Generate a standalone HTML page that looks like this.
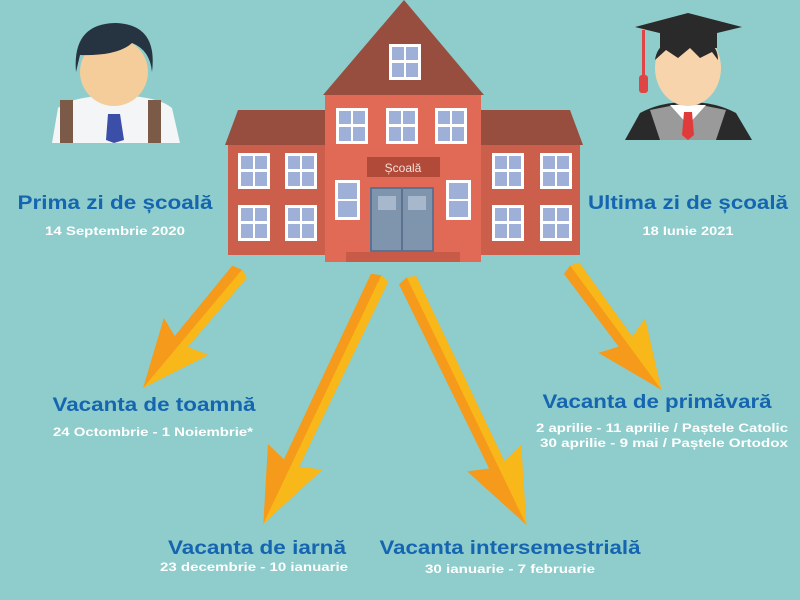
<!DOCTYPE html>
<html><head><meta charset="utf-8"><style>
body{margin:0;width:800px;height:600px;overflow:hidden;background:#8ecdcb}
svg{display:block}
.h{font-family:"Liberation Sans",sans-serif;font-weight:bold;font-size:19px;fill:#1565b0;text-anchor:middle}
.s{font-family:"Liberation Sans",sans-serif;font-weight:bold;font-size:12px;fill:#fff;text-anchor:middle}
</style></head><body>
<svg width="800" height="600" viewBox="0 0 800 600">
<defs>
<g id="win"><rect x="0" y="0" width="32" height="36" fill="#fff"/><rect x="3" y="3" width="12" height="13" fill="#9fb0d8"/><rect x="17" y="3" width="12" height="13" fill="#9fb0d8"/><rect x="3" y="19" width="12" height="14" fill="#9fb0d8"/><rect x="17" y="19" width="12" height="14" fill="#9fb0d8"/></g>
<g id="arr1"><polygon points="0,-9 -3,0 0,10 91,9 84,29 151,0 84,-29 91,-8" fill="#f59a1a"/><polygon points="0,-9 -3,0 151,0 84,-29 91,-8" fill="#f9b81a"/></g>
<g id="arr2"><polygon points="0,-9 -3,0 0,10 205,9 198,30 272,0 198,-30 205,-8" fill="#f59a1a"/><polygon points="0,-9 -3,0 272,0 198,-30 205,-8" fill="#f9b81a"/></g>
</defs>
<!-- left boy -->
<path d="M52,143 L58,108 Q70,98 100,96 L130,96 Q160,98 172,108 L180,143 Z" fill="#f3f5f6"/>
<rect x="60" y="100" width="13" height="43" fill="#7b5a48"/><rect x="148" y="100" width="13" height="43" fill="#7b5a48"/>
<polygon points="108,114 120,114 124,140 114,143 106,140" fill="#3b4fa8"/>
<ellipse cx="114" cy="72" rx="34" ry="34" fill="#f5cd9b"/>
<path d="M76,72 Q72,24 115,23 Q158,24 152,72 Q150,50 132,43 Q118,56 80,55 Z" fill="#263340"/>
<!-- right grad -->
<path d="M625,140 L640,113 Q660,102 688,102 Q716,102 736,113 L752,140 Z" fill="#2a2a2a"/>
<polygon points="650,110 680,104 688,140 660,140" fill="#9a9a9a"/><polygon points="726,110 696,104 688,140 716,140" fill="#9a9a9a"/>
<polygon points="670,105 706,105 688,125" fill="#fff"/>
<polygon points="684,112 692,112 694,135 688,140 682,135" fill="#e03a3a"/>
<ellipse cx="688" cy="68" rx="33" ry="38" fill="#f7d4ab"/>
<path d="M655,60 Q658,38 688,38 Q718,38 718,60 L712,52 L700,58 L690,48 L678,58 L666,50 Z" fill="#2a2a2a"/>
<polygon points="635,27 688,13 742,27 688,40" fill="#2a2a2a"/>
<rect x="660" y="28" width="57" height="20" fill="#2a2a2a"/>
<rect x="642" y="30" width="3" height="45" fill="#e04545"/><rect x="639" y="75" width="9" height="18" rx="3" fill="#e04545"/>
<!-- school -->
<polygon points="225,145 238,110 325,110 325,145" fill="#984e3e"/>
<polygon points="583,145 570,110 481,110 481,145" fill="#984e3e"/>
<rect x="228" y="145" width="98" height="110" fill="#cc5e4c"/>
<rect x="480" y="145" width="100" height="110" fill="#cc5e4c"/>
<polygon points="404,0 484,95 323,95" fill="#984e3e"/>
<rect x="325" y="95" width="156" height="167" fill="#e06a55"/>
<rect x="346" y="252" width="114" height="10" fill="#c85a48"/>
<use href="#win" x="389" y="44"/>
<use href="#win" x="336" y="108"/><use href="#win" x="386" y="108"/><use href="#win" x="435" y="108"/>
<use href="#win" x="238" y="153"/><use href="#win" x="285" y="153"/><use href="#win" x="238" y="205"/><use href="#win" x="285" y="205"/>
<use href="#win" x="492" y="153"/><use href="#win" x="540" y="153"/><use href="#win" x="492" y="205"/><use href="#win" x="540" y="205"/>
<g><rect x="335" y="180" width="25" height="40" fill="#fff"/><rect x="338" y="183" width="19" height="16" fill="#9fb0d8"/><rect x="338" y="201" width="19" height="16" fill="#9fb0d8"/></g>
<g><rect x="446" y="180" width="25" height="40" fill="#fff"/><rect x="449" y="183" width="19" height="16" fill="#9fb0d8"/><rect x="449" y="201" width="19" height="16" fill="#9fb0d8"/></g>
<rect x="367" y="157" width="73" height="20" fill="#b24a3a"/>
<text x="403" y="172" font-family="Liberation Sans,sans-serif" font-size="12" fill="#f5e0d8" text-anchor="middle">Școală</text>
<rect x="371" y="188" width="62" height="63" fill="#7f95ae" stroke="#5d7290" stroke-width="2"/>
<line x1="402" y1="188" x2="402" y2="251" stroke="#5d7290" stroke-width="2"/>
<rect x="378" y="196" width="18" height="14" fill="#a7b8cc"/><rect x="408" y="196" width="18" height="14" fill="#a7b8cc"/>
<!-- arrows -->
<use href="#arr1" transform="translate(240,272) rotate(129.9)"/>
<use href="#arr2" transform="translate(380,278) rotate(115.4)"/>
<use href="#arr2" transform="translate(408,280) rotate(64.2)"/>
<use href="#arr1" transform="translate(572,268) rotate(53.7)"/>
<!-- text -->
<text class="h" x="115" y="209" textLength="195" lengthAdjust="spacingAndGlyphs">Prima zi de școală</text>
<text class="s" x="115" y="235" textLength="140" lengthAdjust="spacingAndGlyphs">14 Septembrie 2020</text>
<text class="h" x="688" y="209" textLength="200" lengthAdjust="spacingAndGlyphs">Ultima zi de școală</text>
<text class="s" x="688" y="235" textLength="91" lengthAdjust="spacingAndGlyphs">18 Iunie 2021</text>
<text class="h" x="154" y="411" textLength="203" lengthAdjust="spacingAndGlyphs">Vacanta de toamnă</text>
<text class="s" x="153" y="436" textLength="200" lengthAdjust="spacingAndGlyphs">24 Octombrie - 1 Noiembrie*</text>
<text class="h" x="657" y="408" textLength="229" lengthAdjust="spacingAndGlyphs">Vacanta de primăvară</text>
<text class="s" x="662" y="432" textLength="252" lengthAdjust="spacingAndGlyphs">2 aprilie - 11 aprilie / Paștele Catolic</text>
<text class="s" x="664" y="447" textLength="248" lengthAdjust="spacingAndGlyphs">30 aprilie - 9 mai / Paștele Ortodox</text>
<text class="h" x="257" y="554" textLength="178" lengthAdjust="spacingAndGlyphs">Vacanta de iarnă</text>
<text class="s" x="254" y="571" textLength="188" lengthAdjust="spacingAndGlyphs">23 decembrie - 10 ianuarie</text>
<text class="h" x="510" y="554" textLength="261" lengthAdjust="spacingAndGlyphs">Vacanta intersemestrială</text>
<text class="s" x="510" y="573" textLength="170" lengthAdjust="spacingAndGlyphs">30 ianuarie - 7 februarie</text>
</svg>
</body></html>
